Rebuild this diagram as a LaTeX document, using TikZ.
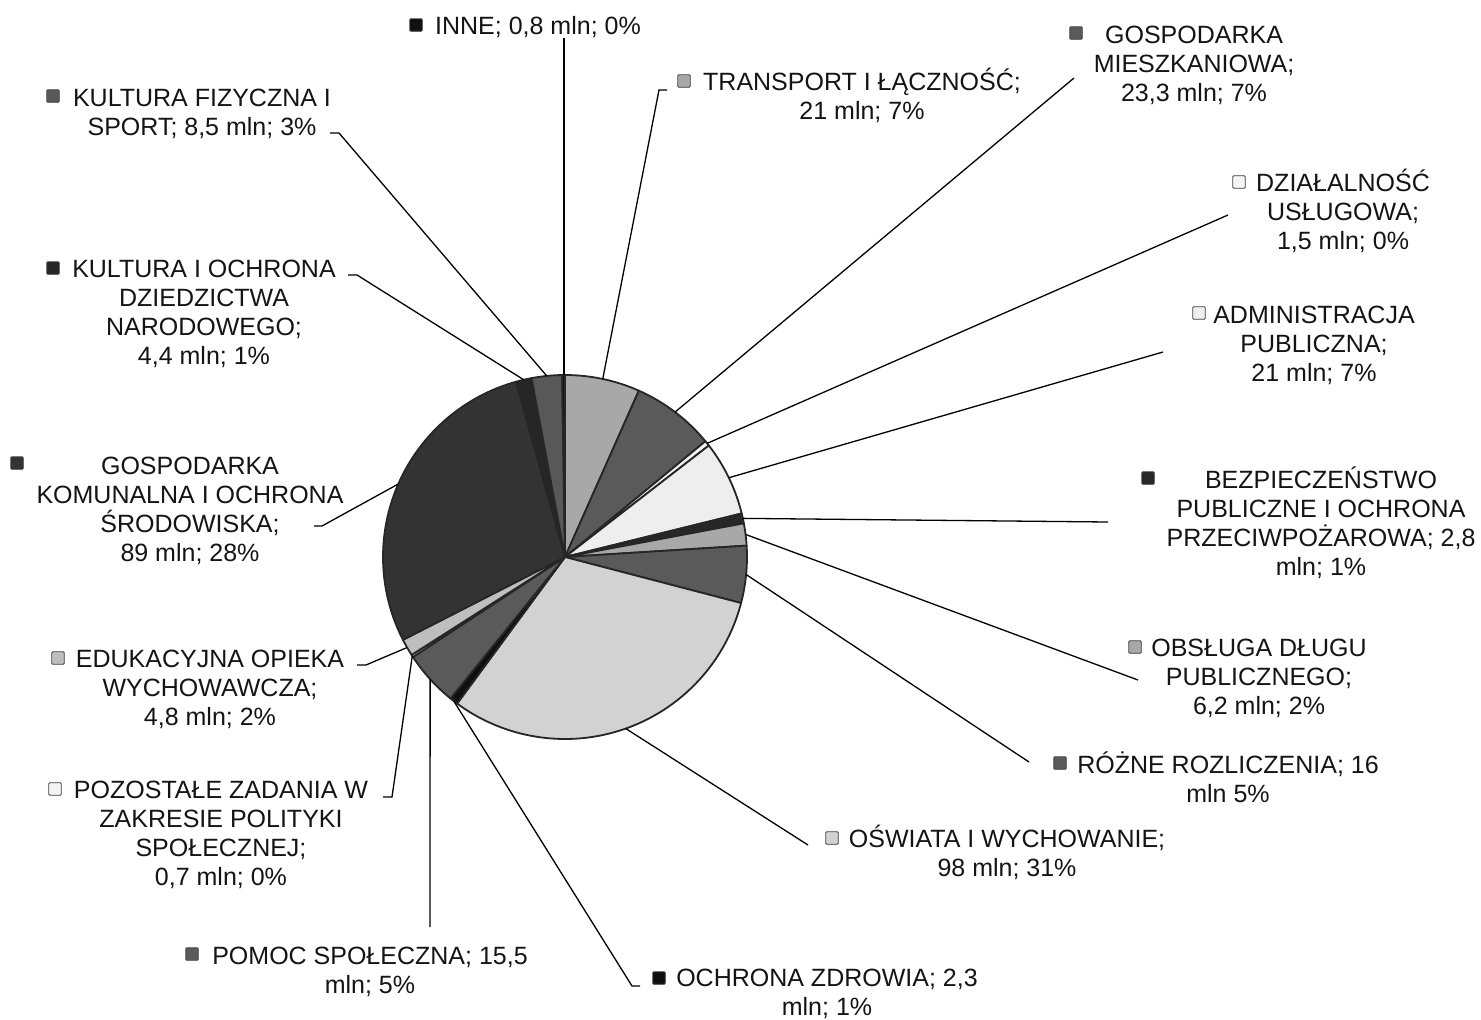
\documentclass[tikz,border=0pt]{standalone}
\usepackage{fontspec}
\setmainfont{Liberation Sans}
\definecolor{cT}{HTML}{A8A8A8}
\definecolor{cGM}{HTML}{5A5A5A}
\definecolor{cDU}{HTML}{F4F4F4}
\definecolor{cAP}{HTML}{EEEEEE}
\definecolor{cBP}{HTML}{272727}
\definecolor{cOD}{HTML}{A8A8A8}
\definecolor{cRR}{HTML}{5A5A5A}
\definecolor{cOW}{HTML}{D2D2D2}
\definecolor{cOZ}{HTML}{0F0F0F}
\definecolor{cPS}{HTML}{5A5A5A}
\definecolor{cPZ}{HTML}{F4F4F4}
\definecolor{cEO}{HTML}{BEBEBE}
\definecolor{cGK}{HTML}{333333}
\definecolor{cKO}{HTML}{262626}
\definecolor{cKF}{HTML}{585858}
\definecolor{cIN}{HTML}{101010}
\newcommand\myslice[4]{%
  \filldraw[slice, fill=#4] (c) -- ++({-90+#2}:182) arc[start angle={-90+#2}, end angle={-90+#3}, radius=182] -- cycle;
  \path (c) ++({-90+(#2+#3)/2}:182) coordinate (m#1);}
\begin{document}
\begin{tikzpicture}[x=1pt,y=-1pt,
  slice/.style={draw=black!85, line width=1.8pt, line join=round},
  leader/.style={draw=black, line width=1.3pt},
  mk/.style={draw=black!75, line width=0.9pt, minimum size=12.5pt, inner sep=0pt, rounded corners=1pt},
  lbl/.style={align=center, inner sep=0pt, anchor=base, text=black!92, font=\fontsize{25}{29}\selectfont}]
\useasboundingbox (0,0) rectangle (1481,1020);
\fill[white] (0,0) rectangle (1481,1020);
\coordinate (c) at (565,557);
% pie slices, clockwise from top
\myslice{T}{0}{23.94}{cT}
\myslice{GM}{23.94}{50.50}{cGM}
\myslice{DU}{50.50}{52.21}{cDU}
\myslice{AP}{52.21}{76.15}{cAP}
\myslice{BP}{76.15}{79.34}{cBP}
\myslice{OD}{79.34}{86.41}{cOD}
\myslice{RR}{86.41}{104.65}{cRR}
\myslice{OW}{104.65}{216.36}{cOW}
\myslice{OZ}{216.36}{218.98}{cOZ}
\myslice{PS}{218.98}{236.66}{cPS}
\myslice{PZ}{236.66}{237.45}{cPZ}
\myslice{EO}{237.45}{242.92}{cEO}
\myslice{GK}{242.92}{344.38}{cGK}
\myslice{KO}{344.38}{349.40}{cKO}
\myslice{KF}{349.40}{359.09}{cKF}
\myslice{IN}{359.09}{360}{cIN}

% labels (base anchor = baseline of the last line)
\node[mk, fill=cIN] (kIN) at (416,25) {};
\node[lbl] (tIN) at (538,34) {INNE; 0,8 mln; 0\%};
\node[mk, fill=cT] (kT) at (684,81) {};
\node[lbl] (tT) at (862,119) {TRANSPORT I ŁĄCZNOŚĆ;\\21 mln; 7\%};
\node[mk, fill=cGM] (kGM) at (1076,33) {};
\node[lbl] (tGM) at (1194,101) {GOSPODARKA\\MIESZKANIOWA;\\23,3 mln; 7\%};
\node[mk, fill=cDU] (kDU) at (1239,182) {};
\node[lbl] (tDU) at (1343,249) {DZIAŁALNOŚĆ\\USŁUGOWA;\\1,5 mln; 0\%};
\node[mk, fill=cAP] (kAP) at (1199,313) {};
\node[lbl] (tAP) at (1314,381) {ADMINISTRACJA\\PUBLICZNA;\\21 mln; 7\%};
\node[mk, fill=cBP] (kBP) at (1148,478) {};
\node[lbl] (tBP) at (1321,575) {BEZPIECZEŃSTWO\\PUBLICZNE I OCHRONA\\PRZECIWPOŻAROWA; 2,8\\mln; 1\%};
\node[mk, fill=cOD] (kOD) at (1135,647) {};
\node[lbl] (tOD) at (1259,714) {OBSŁUGA DŁUGU\\PUBLICZNEGO;\\6,2 mln; 2\%};
\node[mk, fill=cRR] (kRR) at (1060,763) {};
\node[lbl] (tRR) at (1228,802) {RÓŻNE ROZLICZENIA; 16\\mln 5\%};
\node[mk, fill=cOW] (kOW) at (832,838) {};
\node[lbl] (tOW) at (1007,876) {OŚWIATA I WYCHOWANIE;\\98 mln; 31\%};
\node[mk, fill=cOZ] (kOZ) at (659,978) {};
\node[lbl] (tOZ) at (827,1015) {OCHRONA ZDROWIA; 2,3\\mln; 1\%};
\node[mk, fill=cPS] (kPS) at (192,954) {};
\node[lbl] (tPS) at (370,993) {POMOC SPOŁECZNA; 15,5\\mln; 5\%};
\node[mk, fill=cPZ] (kPZ) at (55,789) {};
\node[lbl] (tPZ) at (221,885) {POZOSTAŁE ZADANIA W\\ZAKRESIE POLITYKI\\SPOŁECZNEJ;\\0,7 mln; 0\%};
\node[mk, fill=cEO] (kEO) at (58,658) {};
\node[lbl] (tEO) at (210,725) {EDUKACYJNA OPIEKA\\WYCHOWAWCZA;\\4,8 mln; 2\%};
\node[mk, fill=cGK] (kGK) at (17,463) {};
\node[lbl] (tGK) at (190,561) {GOSPODARKA\\KOMUNALNA I OCHRONA\\ŚRODOWISKA;\\89 mln; 28\%};
\node[mk, fill=cKO] (kKO) at (53,268) {};
\node[lbl] (tKO) at (204,364) {KULTURA I OCHRONA\\DZIEDZICTWA\\NARODOWEGO;\\4,4 mln; 1\%};
\node[mk, fill=cKF] (kKF) at (53,96) {};
\node[lbl] (tKF) at (202,135) {KULTURA FIZYCZNA I\\SPORT; 8,5 mln; 3\%};

% leader end points
\coordinate (eIN) at (564,38);
\coordinate (eT) at (667,90);
\coordinate (eGM) at (1074,78);
\coordinate (eDU) at (1228,215);
\coordinate (eAP) at (1163,352);
\coordinate (eBP) at (1108,522);
\coordinate (eOD) at (1138,680);
\coordinate (eRR) at (1029,762);
\coordinate (eOW) at (808,845);
\coordinate (eOZ) at (640,986);
\coordinate (ePS) at (430,927);
\coordinate (ePZ) at (383,797);
\coordinate (eEO) at (357,665);
\coordinate (eGK) at (314,526);
\coordinate (eKO) at (348,275);
\coordinate (eKF) at (330,133);

% leaders
\draw[leader] (eIN) -- (eIN |- mIN);
\draw[leader] (eT) -- ++(-8,0) -- (mT);
\draw[leader] (eGM) -- (mGM);
\draw[leader] (eDU) -- (mDU);
\draw[leader] (eAP) -- (mAP);
\draw[leader] (eBP) -- (mBP);
\draw[leader] (eOD) -- (mOD);
\draw[leader] (eRR) -- (mRR);
\draw[leader] (eOW) -- (mOW);
\draw[leader] (eOZ) -- ++(-8,0) -- (mOZ);
\draw[leader] (ePS) -- (mPS);
\draw[leader] (ePZ) -- ++(9,0) -- (mPZ);
\draw[leader] (eEO) -- ++(9,0) -- (mEO);
\draw[leader] (eGK) -- ++(8,0) -- (mGK);
\draw[leader] (eKO) -- ++(9,0) -- (mKO);
\draw[leader] (eKF) -- ++(9,0) -- (mKF);
\end{tikzpicture}
\end{document}
